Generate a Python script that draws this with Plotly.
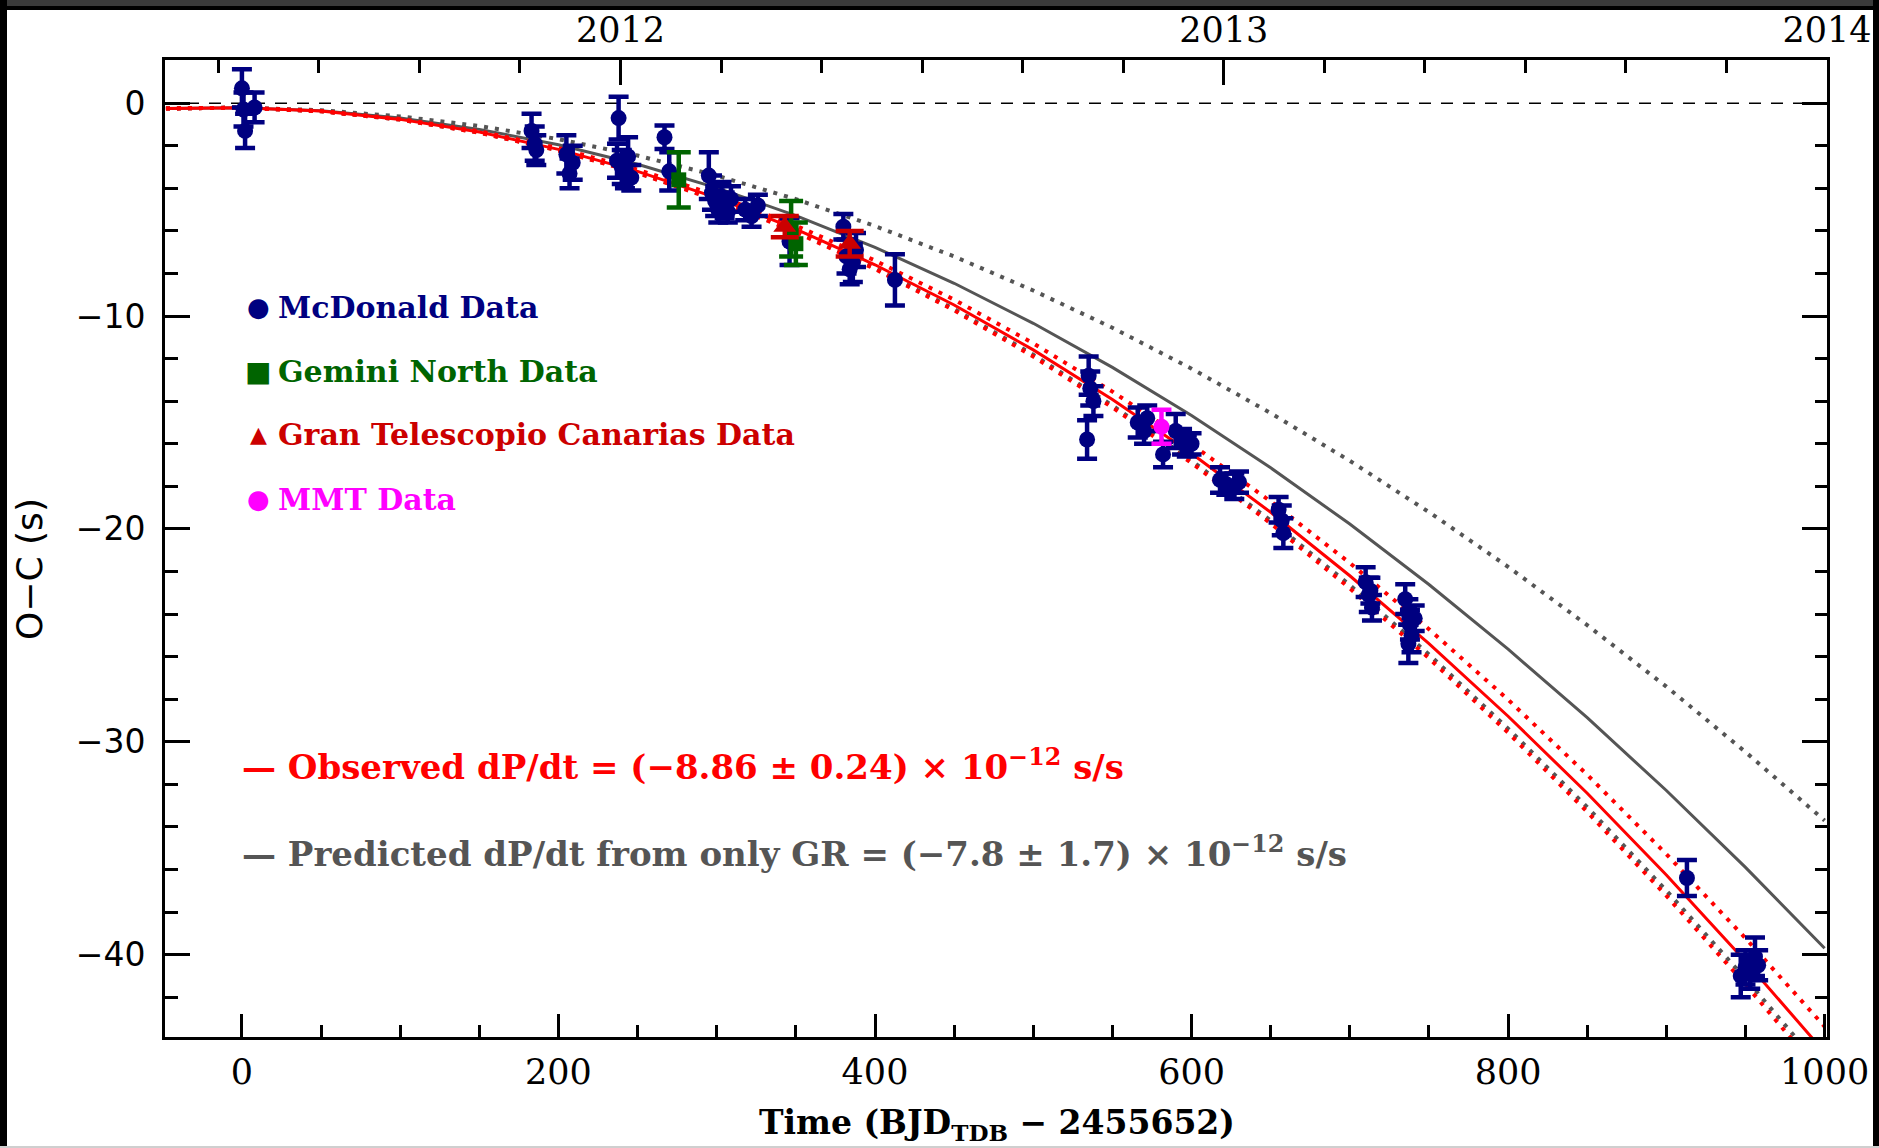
import plotly.graph_objects as go

# ---------------- data ----------------
mcd_x = [0, 1, 2, 8, 183, 185, 186, 205, 207, 209, 237, 238, 240, 242, 244, 246,
         267, 270, 295, 297, 299, 301, 303, 305, 307, 309, 318, 322, 326, 346,
         380, 382, 384, 386, 388, 412.6, 534, 535, 536, 538, 566, 570, 572, 582,
         590, 594, 597, 600, 618, 622, 627, 630, 655, 657, 658, 710, 712, 713, 714,
         735, 737, 737, 738, 739, 741, 913, 947, 950, 953, 956, 958]
mcd_y = [0.7, -0.3, -1.3, -0.2, -1.3, -1.9, -2.2, -2.4, -3.3, -2.8, -2.7, -0.7, -3.0, -3.3, -2.5, -3.5,
         -1.6, -3.2, -3.4, -4.2, -4.6, -5.0, -4.4, -4.8, -5.1, -4.5, -5.0, -5.3, -4.8, -6.5,
         -5.8, -7.2, -7.8, -7.5, -6.9, -8.3, -15.8, -12.8, -13.4, -14.0, -15.0, -15.4, -14.8, -16.5,
         -15.4, -15.9, -16.1, -16.0, -17.7, -17.9, -18.0, -17.8, -19.1, -19.6, -20.2, -22.5, -23.1, -22.9, -23.7,
         -23.3, -23.9, -25.4, -24.5, -25.0, -24.2, -36.4, -41.0, -40.6, -40.9, -40.1, -40.5]
mcd_err = [0.9, 0.8, 0.8, 0.7, 0.8, 0.8, 0.7, 0.9, 0.7, 0.8, 0.8, 1.0, 0.8, 0.7, 0.9, 0.6,
           0.55, 0.9, 1.1, 0.8, 0.7, 0.6, 0.7, 0.6, 0.5, 0.6, 0.5, 0.5, 0.5, 1.1,
           0.6, 0.8, 0.7, 0.9, 0.8, 1.2, 0.9, 0.9, 0.8, 0.7, 0.7, 0.6, 0.6, 0.6,
           0.8, 0.6, 0.5, 0.5, 0.6, 0.5, 0.6, 0.5, 0.6, 0.7, 0.7, 0.7, 0.8, 0.6, 0.6,
           0.7, 0.6, 0.9, 0.7, 0.8, 0.6, 0.85, 1.0, 0.8, 0.7, 0.9, 0.7]

gem_x = [276, 347, 350]
gem_y = [-3.6, -5.9, -6.6]
gem_err = [1.3, 1.3, 1.0]

gtc_x = [343, 384]
gtc_y = [-5.8, -6.6]
gtc_err = [0.5, 0.6]

mmt_x = [581]
mmt_y = [-15.2]
mmt_err = [0.8]

# model curves
curve_x = [-48, 0, 50, 100, 150, 200, 250, 300, 350, 400, 450, 500, 550, 600, 650,
           700, 750, 800, 850, 900, 950, 1000]
obs_fit = [-0.25, -0.21, -0.37, -0.76, -1.35, -2.17, -3.20, -4.45, -5.91, -7.59, -9.48,
           -11.59, -13.92, -16.46, -19.22, -22.20, -25.39, -28.80, -32.42, -36.26, -40.31, -44.59]
obs_hi = [-0.25, -0.21, -0.37, -0.74, -1.32, -2.11, -3.12, -4.33, -5.75, -7.39, -9.23,
          -11.28, -13.55, -16.02, -18.71, -21.60, -24.71, -28.02, -31.55, -35.28, -39.23, -43.38]
obs_lo = [-0.25, -0.21, -0.38, -0.77, -1.39, -2.22, -3.28, -4.56, -6.06, -7.79, -9.73,
          -11.90, -14.29, -16.90, -19.74, -22.79, -26.07, -29.57, -33.29, -37.23, -41.40, -45.79]
gr_fit = [-0.25, -0.21, -0.35, -0.69, -1.23, -1.95, -2.87, -3.98, -5.28, -6.77, -8.46,
          -10.34, -12.41, -14.67, -17.13, -19.77, -22.61, -25.65, -28.87, -32.29, -35.90, -39.70]
gr_hi = [-0.24, -0.21, -0.33, -0.62, -1.07, -1.69, -2.46, -3.40, -4.51, -5.77, -7.20,
         -8.80, -10.55, -12.47, -14.56, -16.80, -19.21, -21.78, -24.52, -27.41, -30.48, -33.70]
gr_lo = [-0.25, -0.21, -0.38, -0.77, -1.38, -2.21, -3.26, -4.53, -6.02, -7.74, -9.67,
         -11.82, -14.20, -16.79, -19.61, -22.64, -25.90, -29.38, -33.07, -36.99, -41.13, -45.49]

x_range = [-48.6, 1001.5]
y_range = [-43.87, 2.03]
year_range = [2011.245, 2014.0]
year_ticks = [2012, 2013, 2014]

# ---------------- layout helpers ----------------
W, H = 1879, 1148
L, R, T, B = 165, 1827, 60, 1037


def px(fx):
    return (fx - L) / (R - L)


def py(fy):
    return (B - fy) / (B - T)


SERIF = "DejaVu Serif"
SANS = "DejaVu Sans"
NAVY = "#000080"
GREEN = "#006400"
DRED = "#cc0000"
MAG = "#ff00ff"
GRAY = "#555555"

fig = go.Figure()

# curves
fig.add_trace(go.Scatter(x=curve_x, y=gr_hi, mode="lines",
                         line=dict(color=GRAY, width=4, dash="4px,7px")))
fig.add_trace(go.Scatter(x=curve_x, y=gr_lo, mode="lines",
                         line=dict(color=GRAY, width=4, dash="4px,7px")))
fig.add_trace(go.Scatter(x=curve_x, y=gr_fit, mode="lines",
                         line=dict(color=GRAY, width=3)))
fig.add_trace(go.Scatter(x=curve_x, y=obs_hi, mode="lines",
                         line=dict(color="#ff0000", width=4, dash="4px,7px")))
fig.add_trace(go.Scatter(x=curve_x, y=obs_lo, mode="lines",
                         line=dict(color="#ff0000", width=4, dash="4px,7px")))
fig.add_trace(go.Scatter(x=curve_x, y=obs_fit, mode="lines",
                         line=dict(color="#ff0000", width=3)))


def err(arr, color, w=10):
    return dict(type="data", array=arr, visible=True, color=color, thickness=4.5, width=w)


fig.add_trace(go.Scatter(x=mcd_x, y=mcd_y, mode="markers",
                         marker=dict(symbol="circle", size=16, color=NAVY),
                         error_y=err(mcd_err, NAVY)))
fig.add_trace(go.Scatter(x=gem_x, y=gem_y, mode="markers",
                         marker=dict(symbol="square", size=15, color=GREEN),
                         error_y=err(gem_err, GREEN, 12)))
fig.add_trace(go.Scatter(x=gtc_x, y=gtc_y, mode="markers",
                         marker=dict(symbol="triangle-up", size=20, color=DRED),
                         error_y=err(gtc_err, DRED, 14)))
fig.add_trace(go.Scatter(x=mmt_x, y=mmt_y, mode="markers",
                         marker=dict(symbol="circle", size=16, color=MAG),
                         error_y=err(mmt_err, MAG)))
# anchor trace for the top (calendar year) axis
fig.add_trace(go.Scatter(x=[2012.5], y=[0], xaxis="x2", mode="markers",
                         marker=dict(opacity=0), hoverinfo="skip"))

tick_common = dict(ticks="inside", tickcolor="black", tickwidth=2.5,
                   showline=True, linecolor="black", linewidth=3,
                   showgrid=False, zeroline=False, automargin=False)

fig.update_layout(
    width=W, height=H,
    margin=dict(l=L, r=W - R, t=T, b=H - B, pad=0, autoexpand=False),
    paper_bgcolor="white", plot_bgcolor="white",
    showlegend=False,
    xaxis=dict(range=x_range, tick0=0, dtick=200, ticklen=23, mirror=False,
               tickfont=dict(family=SERIF, size=35, color="black"),
               ticklabelstandoff=2,
               minor=dict(tick0=0, dtick=50, ticks="inside", ticklen=12,
                          tickwidth=2.5, tickcolor="black", showgrid=False),
               **tick_common),
    xaxis2=dict(range=year_range, overlaying="x", side="top",
                tickvals=year_ticks, ticktext=[str(v) for v in year_ticks],
                ticklen=25, tickfont=dict(family=SERIF, size=35, color="black"),
                ticklabelstandoff=1,
                minor=dict(tick0=2012, dtick=1 / 6, ticks="inside", ticklen=13,
                           tickwidth=2.5, tickcolor="black", showgrid=False),
                **tick_common),
    yaxis=dict(range=y_range, tick0=0, dtick=10, ticklen=25, mirror="ticks",
               tickfont=dict(family=SANS, size=33, color="black"),
               ticklabelstandoff=10,
               minor=dict(tick0=0, dtick=2, ticks="inside", ticklen=12.5,
                          tickwidth=2.5, tickcolor="black", showgrid=False),
               **tick_common),
)

# zero reference line
fig.add_shape(type="line", xref="paper", yref="y", x0=0, x1=1, y0=0, y1=0,
              line=dict(color="black", width=1.5, dash="12px,10px"), layer="below")

# outer screenshot frame
frame = [
    (0, 0, W, 6, "#3a3a3a"),
    (0, 6, W, 10, "#000000"),
    (0, 0, 7, H, "#000000"),
    (1873, 0, W, H, "#000000"),
    (0, 1146, W, H, "#cfcfcf"),
]
for x0, y0, x1, y1, c in frame:
    fig.add_shape(type="rect", xref="paper", yref="paper",
                  x0=px(x0), x1=px(x1), y0=py(y0), y1=py(y1),
                  fillcolor=c, line=dict(width=0), layer="above")

ann = []
# axis titles
ann.append(dict(x=px(997), y=py(1124), xref="paper", yref="paper",
                text="<b>Time (BJD<sub>TDB</sub> \u2212 2455652)</b>", showarrow=False,
                font=dict(family=SERIF, size=33, color="black"),
                xanchor="center", yanchor="middle"))
ann.append(dict(x=px(29), y=py(569), xref="paper", yref="paper",
                text="O\u2212C (s)", showarrow=False, textangle=-90,
                font=dict(family=SANS, size=36, color="black"),
                xanchor="center", yanchor="middle"))

# legend block
legend_rows = [
    ("\u25CF", 26, "McDonald Data", NAVY, 307),
    ("\u25A0", 28, "Gemini North Data", GREEN, 371),
    ("\u25B2", 22, "Gran Telescopio Canarias Data", DRED, 435),
    ("\u25CF", 26, "MMT Data", MAG, 499),
]
for glyph, gsize, label, col, fy in legend_rows:
    ann.append(dict(x=px(258), y=py(fy), xref="paper", yref="paper", text=glyph,
                    showarrow=False, font=dict(family=SANS, size=gsize, color=col),
                    xanchor="center", yanchor="middle"))
    ann.append(dict(x=px(276), y=py(fy), xref="paper", yref="paper", text="<b>" + label + "</b>",
                    showarrow=False, font=dict(family=SERIF, size=30, color=col),
                    xanchor="left", yanchor="middle"))

ann.append(dict(x=px(240), y=py(765), xref="paper", yref="paper",
                text="<b>\u2014 Observed dP/dt = (\u22128.86 \u00B1 0.24) \u00D7 10<sup>\u221212</sup> s/s</b>",
                showarrow=False, font=dict(family=SERIF, size=34, color="#ff0000"),
                xanchor="left", yanchor="middle"))
ann.append(dict(x=px(240), y=py(852), xref="paper", yref="paper",
                text="<b>\u2014 Predicted dP/dt from only GR = (\u22127.8 \u00B1 1.7) \u00D7 10<sup>\u221212</sup> s/s</b>",
                showarrow=False, font=dict(family=SERIF, size=34, color=GRAY),
                xanchor="left", yanchor="middle"))
fig.update_layout(annotations=ann)

fig.write_html("out.html")
